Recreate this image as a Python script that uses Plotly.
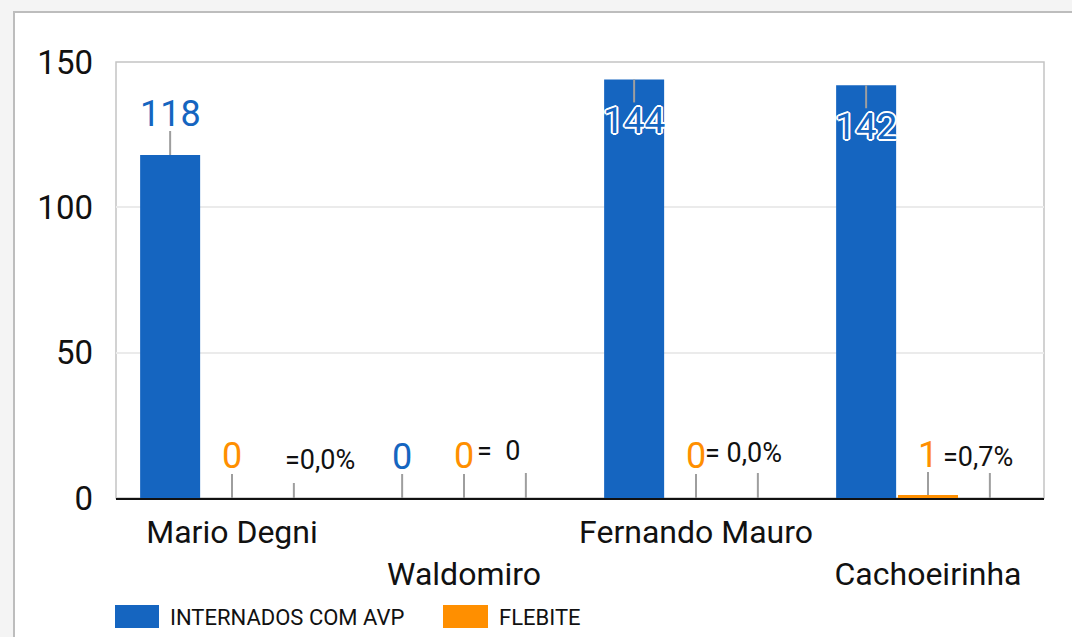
import plotly.graph_objects as go

# ---- data ----
categories = ["Mario Degni", "Waldomiro", "Fernando Mauro", "Cachoeirinha"]
internados_avp = [118, 0, 144, 142]
flebite = [0, 0, 0, 1]
percent_base = [0, 0, 0, 0]
percent_labels = ["=0,0%", "=  0", "= 0,0%", "=0,7%"]
series_names = ["INTERNADOS COM AVP", "FLEBITE"]
y_ticks = [0, 50, 100, 150]

# ---- style ----
BLUE = "#1565c0"
ORANGE = "#ff8f00"
STEM = "#9e9e9e"
FONT = "Roboto, Arial, sans-serif"
W, H = 1072, 637
ML, MR, MT, MB = 116, 28, 62, 139
PW, PH = W - ML - MR, H - MT - MB
BARGAP = 0.2
SLOT = (1 - BARGAP) / 3  # width of each bar slot (category units)

fig = go.Figure()
fig.add_trace(go.Bar(x=categories, y=internados_avp, name=series_names[0],
                     marker=dict(color=BLUE, line=dict(width=0))))
fig.add_trace(go.Bar(x=categories, y=flebite, name=series_names[1],
                     marker=dict(color=ORANGE, line=dict(width=0))))
fig.add_trace(go.Bar(x=categories, y=percent_base, name="%",
                     marker=dict(color="rgba(0,0,0,0)", line=dict(width=0)),
                     showlegend=False))

annotations = []
shapes = []

def stem(xv, yv, length):
    shapes.append(dict(type="line", xref="x", yref="y", ysizemode="pixel",
                       yanchor=yv, x0=xv, x1=xv, y0=0, y1=length,
                       line=dict(color=STEM, width=2), layer="above"))

outline = ("2px 0px 0px #fff, -2px 0px 0px #fff, 0px 2px 0px #fff, 0px -2px 0px #fff, "
           "1.4px 1.4px 0px #fff, -1.4px -1.4px 0px #fff, 1.4px -1.4px 0px #fff, -1.4px 1.4px 0px #fff")

# blue labels
for i, v in enumerate(internados_avp):
    xv = i - SLOT
    inside = v > 135
    if inside:
        stem(xv, v, -23)
        annotations.append(dict(x=xv, y=v, xref="x", yref="y", text=str(v), showarrow=False,
                                yanchor="middle", yshift=-41,
                                font=dict(family=FONT, size=37, color=BLUE, shadow=outline)))
    else:
        stem(xv, v, 24)
        annotations.append(dict(x=xv, y=v, xref="x", yref="y", text=str(v), showarrow=False,
                                yanchor="middle", yshift=41,
                                font=dict(family=FONT, size=36, color=BLUE)))

# orange labels
for i, v in enumerate(flebite):
    xv = i
    stem(xv, v, 24 if v == 0 else 23)
    annotations.append(dict(x=xv, y=v, xref="x", yref="y", text=str(v), showarrow=False,
                            yanchor="middle", yshift=42 if v == 0 else 40,
                            font=dict(family=FONT, size=36, color=ORANGE)))

# percent labels (third, invisible series)
pct_stem = [15, 25, 25, 25]
pct_dx = [26, -27, -14, -12]
pct_dy = [38, 47, 45, 41]
for i, (v, lab) in enumerate(zip(percent_base, percent_labels)):
    xv = i + SLOT
    stem(xv, v, pct_stem[i])
    annotations.append(dict(x=xv, y=v, xref="x", yref="y", text=lab, showarrow=False,
                            yanchor="middle", xshift=pct_dx[i], yshift=pct_dy[i],
                            font=dict(family=FONT, size=27, color="#111")))

# custom legend
def px2paper(xp, yp):
    return (xp - ML) / PW, (H - MB - yp) / PH

leg = [(115, 159, 170, BLUE, series_names[0]), (443, 488, 499, ORANGE, series_names[1])]
for x0p, x1p, tx, col, name in leg:
    a0, b0 = px2paper(x0p, 605)
    a1, b1 = px2paper(x1p, 628)
    shapes.append(dict(type="rect", xref="paper", yref="paper", x0=a0, x1=a1, y0=b1, y1=b0,
                       fillcolor=col, line=dict(width=0)))
    tx_p, ty_p = px2paper(tx - 2, 617)
    annotations.append(dict(x=tx_p, y=ty_p, xref="paper", yref="paper", text=name,
                            showarrow=False, xanchor="left", yanchor="middle",
                            font=dict(family=FONT, size=22, color="#111")))

# outer frame and plot border
fx0, fy0 = px2paper(14, 12)
shapes.insert(0, dict(type="rect", xref="paper", yref="paper", x0=fx0, y0=-1, x1=2, y1=fy0,
                      fillcolor="white", line=dict(color="#bdbdbd", width=2), layer="below"))
shapes.insert(1, dict(type="rect", xref="paper", yref="paper", x0=0, y0=0, x1=1, y1=1,
                      line=dict(color="#c4c4c4", width=1.5), layer="below"))

ticktext = [c if i % 2 == 0 else "<br>" + c for i, c in enumerate(categories)]

fig.update_layout(
    width=W, height=H,
    margin=dict(l=ML, r=MR, t=MT, b=MB, pad=0),
    paper_bgcolor="#f4f4f4",
    plot_bgcolor="rgba(0,0,0,0)",
    barmode="group", bargap=BARGAP, bargroupgap=0.03,
    showlegend=False,
    font=dict(family=FONT, color="#111"),
    annotations=annotations,
    shapes=shapes,
    xaxis=dict(tickvals=categories, ticktext=ticktext, tickfont=dict(size=32, color="#111"),
               showline=True, linecolor="#111", linewidth=2, showgrid=False, ticks="",
               ticklabelstandoff=5,
               zeroline=False, range=[-0.5, 3.5], fixedrange=True),
    yaxis=dict(range=[0, 150], tickvals=y_ticks, tickfont=dict(size=33, color="#111"),
               showgrid=True, gridcolor="#ebebeb", gridwidth=2, zeroline=False,
               showline=False, ticks="", ticklabelstandoff=22, fixedrange=True),
)

page_js = ("document.documentElement.style.overflow='hidden';"
           "document.body.style.margin='0';"
           "document.body.style.background='#f4f4f4';")

fig.write_html("out.html", post_script=page_js, config={"displayModeBar": False})
